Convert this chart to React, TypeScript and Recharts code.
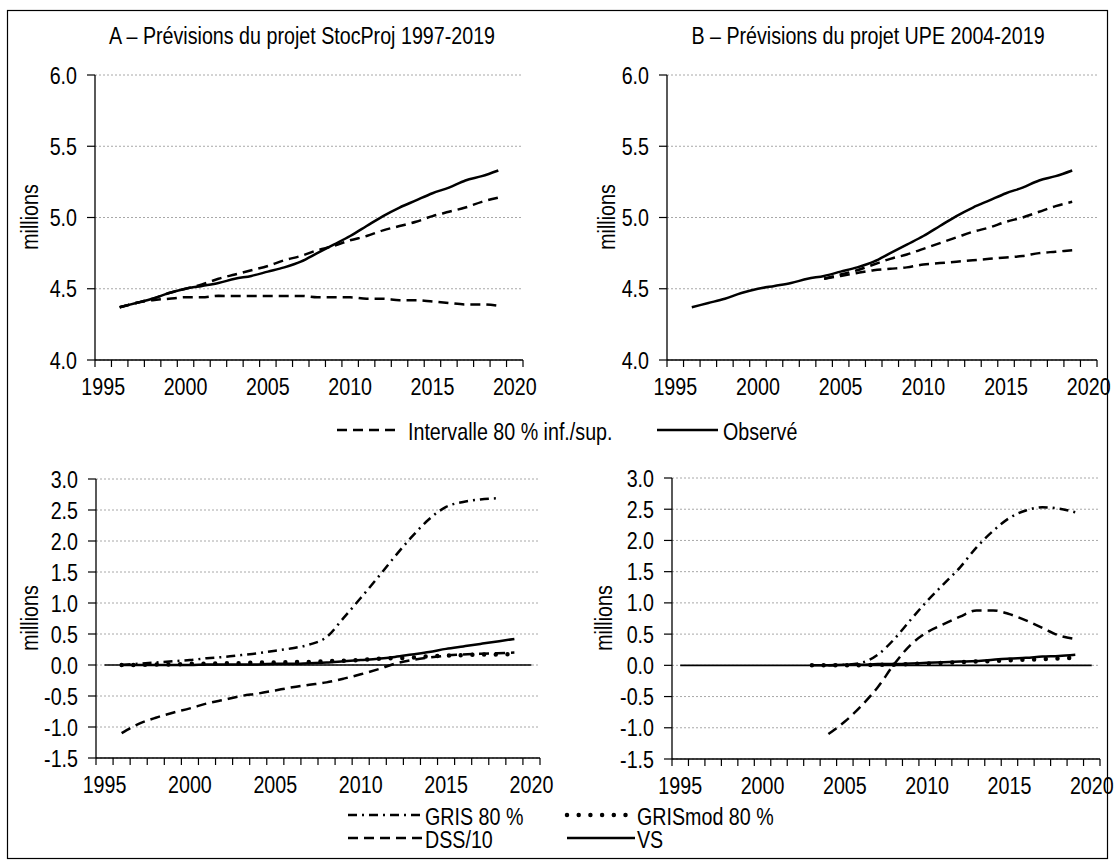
import React from 'react';
import { LineChart, Line, XAxis, YAxis, CartesianGrid, ReferenceLine } from 'recharts';

// no narrow font installed: Liberation Sans squeezed horizontally stands in for Arial Narrow
const FONT = "'Liberation Sans', Arial, sans-serif";
const FS = 24;
const SQ = 0.82;

// x axis: one category per year, labels every 5 years
const yearTicks = [1995, 1996, 1997, 1998, 1999, 2000, 2001, 2002, 2003, 2004, 2005, 2006, 2007,
  2008, 2009, 2010, 2011, 2012, 2013, 2014, 2015, 2016, 2017, 2018, 2019, 2020];
const topTicks = [4.0, 4.5, 5.0, 5.5, 6.0];
const bottomTicks = [-1.5, -1.0, -0.5, 0.0, 0.5, 1.0, 1.5, 2.0, 2.5, 3.0];

// panel A / B (top) : population, millions
const obsYears = [1996, 1997, 1998, 1999, 2000, 2001, 2002, 2003, 2004, 2005, 2006, 2007,
  2008, 2009, 2010, 2011, 2012, 2013, 2014, 2015, 2016, 2017, 2018, 2019];
const observed = [4.37, 4.40, 4.43, 4.47, 4.50, 4.52, 4.54, 4.57, 4.59, 4.62, 4.65, 4.69,
  4.75, 4.81, 4.87, 4.94, 5.01, 5.07, 5.12, 5.17, 5.21, 5.26, 5.29, 5.33];
const stocHigh = [4.37, 4.40, 4.43, 4.47, 4.50, 4.53, 4.57, 4.60, 4.63, 4.66, 4.70, 4.73,
  4.77, 4.80, 4.84, 4.87, 4.91, 4.94, 4.97, 5.01, 5.04, 5.07, 5.11, 5.14];
const stocLow = [4.37, 4.40, 4.42, 4.43, 4.44, 4.44, 4.45, 4.45, 4.45, 4.45, 4.45, 4.45,
  4.44, 4.44, 4.44, 4.43, 4.43, 4.42, 4.42, 4.41, 4.40, 4.39, 4.39, 4.38];

const upeYears = [2004, 2005, 2006, 2007, 2008, 2009, 2010, 2011, 2012, 2013, 2014, 2015,
  2016, 2017, 2018, 2019];
const upeHigh = [4.57, 4.60, 4.63, 4.67, 4.71, 4.74, 4.78, 4.82, 4.86, 4.90, 4.93, 4.97,
  5.00, 5.04, 5.08, 5.11];
const upeLow = [4.57, 4.59, 4.61, 4.63, 4.64, 4.65, 4.67, 4.68, 4.69, 4.70, 4.71, 4.72,
  4.73, 4.75, 4.76, 4.77];

// bottom left : StocProj interval widths
const grisAYears = [1996, 1997, 1998, 1999, 2000, 2001, 2002, 2003, 2004, 2005, 2006, 2007,
  2008, 2009, 2010, 2011, 2012, 2013, 2014, 2015, 2016, 2017, 2018];
const grisA = [0.00, 0.02, 0.04, 0.06, 0.08, 0.11, 0.13, 0.16, 0.19, 0.23, 0.27, 0.33,
  0.45, 0.76, 1.08, 1.41, 1.75, 2.07, 2.35, 2.55, 2.63, 2.67, 2.69];
const grisModA = [0.00, 0.00, 0.01, 0.01, 0.02, 0.02, 0.03, 0.03, 0.04, 0.04, 0.05, 0.05,
  0.06, 0.07, 0.08, 0.10, 0.11, 0.12, 0.14, 0.15, 0.16, 0.17, 0.17, 0.18];
const dssA = [-1.10, -0.95, -0.85, -0.77, -0.70, -0.62, -0.56, -0.50, -0.46, -0.41, -0.36, -0.32,
  -0.28, -0.22, -0.15, -0.07, 0.02, 0.08, 0.12, 0.15, 0.17, 0.18, 0.19, 0.20];
const vsA = [0.00, 0.00, 0.00, 0.00, 0.00, 0.01, 0.01, 0.01, 0.01, 0.02, 0.02, 0.03,
  0.04, 0.06, 0.08, 0.10, 0.13, 0.17, 0.21, 0.26, 0.30, 0.34, 0.38, 0.42];

// bottom right : UPE interval widths
const grisBYears = upeYears;
const grisB = [0.00, 0.01, 0.04, 0.17, 0.42, 0.73, 1.03, 1.30, 1.57, 1.89, 2.15, 2.36,
  2.48, 2.53, 2.51, 2.45];
const dssB = [-1.10, -0.90, -0.65, -0.35, 0.02, 0.33, 0.53, 0.66, 0.78, 0.88, 0.88, 0.82,
  0.72, 0.60, 0.48, 0.42];
const modBYears = [2003, 2004, 2005, 2006, 2007, 2008, 2009, 2010, 2011, 2012, 2013, 2014,
  2015, 2016, 2017, 2018, 2019];
const grisModB = [0.00, 0.00, 0.00, 0.00, 0.01, 0.01, 0.02, 0.03, 0.04, 0.05, 0.06, 0.07,
  0.08, 0.09, 0.10, 0.11, 0.12];
const vsB = [0.00, 0.00, 0.01, 0.01, 0.02, 0.02, 0.03, 0.04, 0.05, 0.06, 0.07, 0.09,
  0.11, 0.12, 0.14, 0.15, 0.17];

type Kind = 'solid' | 'dash' | 'dashdot' | 'dots';
type Series = { name: string; years: number[]; values: number[]; kind: Kind };

const STYLES: Record<Kind, any> = {
  solid: { strokeWidth: 2.5 },
  dash: { strokeWidth: 2.5, strokeDasharray: '10 6' },
  dashdot: { strokeWidth: 2.5, strokeDasharray: '9 5 2 5' },
  dots: { strokeWidth: 4.5, strokeDasharray: '0 11.7', strokeLinecap: 'round' },
};

const rows = (years: number[], values: number[]) => years.map((year, i) => ({ year, v: values[i] }));

// narrow text
function NText({ x, y, anchor = 'start', rotate = 0, children }: any) {
  return (
    <text
      transform={`translate(${x},${y}) rotate(${rotate}) scale(${SQ},1)`}
      textAnchor={anchor} fontSize={FS} fontFamily={FONT} fill="#000"
    >
      {children}
    </text>
  );
}

function XTick(props: any) {
  const { x, y, payload, step } = props;
  const yr = payload.value;
  return (
    <g>
      <line x1={x - step / 2} x2={x - step / 2} y1={y} y2={y + 7} stroke="#000" strokeWidth={1.2} />
      {yr === 2020 && <line x1={x + step / 2} x2={x + step / 2} y1={y} y2={y + 7} stroke="#000" strokeWidth={1.2} />}
      {yr % 5 === 0 && <NText x={x} y={y + 35} anchor="middle">{yr}</NText>}
    </g>
  );
}

function YTick(props: any) {
  const { x, y, payload } = props;
  return <NText x={x} y={y + 8.5} anchor="end">{Number(payload.value).toFixed(1)}</NText>;
}

type PanelProps = {
  left: number; top: number; width: number; height: number;
  margin: { top: number; right: number; bottom: number; left: number };
  yWidth: number; domain: [number, number]; ticks: number[];
  series: Series[]; zero?: boolean;
};

function Panel({ left, top, width, height, margin, yWidth, domain, ticks, series, zero }: PanelProps) {
  const plotW = width - margin.left - margin.right - yWidth;
  const step = plotW / 26;
  return (
    <div style={{ position: 'absolute', left, top }}>
      <LineChart width={width} height={height} margin={margin}>
        <CartesianGrid vertical={false} stroke="#a8a8a8" strokeDasharray="2 2" />
        <XAxis
          dataKey="year" type="number" domain={[1994.5, 2020.5]} ticks={yearTicks} interval={0}
          allowDataOverflow height={40} tickSize={0} tickMargin={0} tickLine={false}
          axisLine={{ stroke: '#000', strokeWidth: 1.3 }}
          tick={(p: any) => <XTick {...p} step={step} />}
        />
        <YAxis
          type="number" domain={domain} ticks={ticks} interval={0} width={yWidth}
          tickSize={8} tickMargin={10}
          axisLine={{ stroke: '#000', strokeWidth: 1.3 }} tickLine={{ stroke: '#000', strokeWidth: 1.2 }}
          tick={(p: any) => <YTick {...p} />}
        />
        {zero && (
          <ReferenceLine segment={[{ x: 1995, y: 0 }, { x: 2020, y: 0 }]} stroke="#000" strokeWidth={1.6} />
        )}
        {series.map((s) => (
          <Line
            key={s.name} name={s.name} data={rows(s.years, s.values)} dataKey="v" type="monotone"
            stroke="#000" fill="none" dot={false} activeDot={false} isAnimationActive={false}
            {...STYLES[s.kind]}
          />
        ))}
      </LineChart>
    </div>
  );
}

function LegendItem({ x1, x2, y, tx, kind, text }: { x1: number; x2: number; y: number; tx: number; kind: Kind; text: string }) {
  return (
    <g>
      <line x1={x1} x2={x2} y1={y} y2={y} stroke="#000" {...STYLES[kind]} />
      <NText x={tx} y={y + 10}>{text}</NText>
    </g>
  );
}

export default function App() {
  return (
    <div style={{ position: 'absolute', left: 0, top: 0, width: 1115, height: 868, background: '#fff' }}>
      <Panel
        left={0} top={40} width={560} height={365}
        margin={{ top: 35, right: 37, bottom: 5, left: 35 }} yWidth={60}
        domain={[4, 6]} ticks={topTicks}
        series={[
          { name: 'Intervalle sup', years: obsYears, values: stocHigh, kind: 'dash' },
          { name: 'Intervalle inf', years: obsYears, values: stocLow, kind: 'dash' },
          { name: 'Observé', years: obsYears, values: observed, kind: 'solid' },
        ]}
      />
      <Panel
        left={560} top={40} width={555} height={365}
        margin={{ top: 35, right: 18, bottom: 5, left: 47 }} yWidth={60}
        domain={[4, 6]} ticks={topTicks}
        series={[
          { name: 'Intervalle sup', years: upeYears, values: upeHigh, kind: 'dash' },
          { name: 'Intervalle inf', years: upeYears, values: upeLow, kind: 'dash' },
          { name: 'Observé', years: obsYears, values: observed, kind: 'solid' },
        ]}
      />
      <Panel
        left={0} top={440} width={560} height={365}
        margin={{ top: 39, right: 20, bottom: 7, left: 26 }} yWidth={70}
        domain={[-1.5, 3]} ticks={bottomTicks} zero
        series={[
          { name: 'GRIS 80 %', years: grisAYears, values: grisA, kind: 'dashdot' },
          { name: 'DSS/10', years: obsYears, values: dssA, kind: 'dash' },
          { name: 'VS', years: obsYears, values: vsA, kind: 'solid' },
          { name: 'GRISmod 80 %', years: obsYears, values: grisModA, kind: 'dots' },
        ]}
      />
      <Panel
        left={560} top={440} width={555} height={365}
        margin={{ top: 38, right: 15, bottom: 6, left: 42 }} yWidth={70}
        domain={[-1.5, 3]} ticks={bottomTicks} zero
        series={[
          { name: 'GRIS 80 %', years: grisBYears, values: grisB, kind: 'dashdot' },
          { name: 'DSS/10', years: grisBYears, values: dssB, kind: 'dash' },
          { name: 'VS', years: modBYears, values: vsB, kind: 'solid' },
          { name: 'GRISmod 80 %', years: modBYears, values: grisModB, kind: 'dots' },
        ]}
      />
      <svg width={1115} height={868} style={{ position: 'absolute', left: 0, top: 0, pointerEvents: 'none' }}>
        <rect x={7.5} y={10.5} width={1100} height={848} fill="none" stroke="#000" strokeWidth={1.2} />
        <NText x={302} y={44} anchor="middle">A – Prévisions du projet StocProj 1997-2019</NText>
        <NText x={868} y={44} anchor="middle">B – Prévisions du projet UPE 2004-2019</NText>
        <NText x={38} y={217} anchor="middle" rotate={-90}>millions</NText>
        <NText x={615} y={217} anchor="middle" rotate={-90}>millions</NText>
        <NText x={38} y={618} anchor="middle" rotate={-90}>millions</NText>
        <NText x={612} y={618} anchor="middle" rotate={-90}>millions</NText>
        <LegendItem x1={337} x2={400} y={430} tx={408} kind="dash" text="Intervalle 80 % inf./sup." />
        <LegendItem x1={657} x2={718} y={430} tx={723} kind="solid" text="Observé" />
        <LegendItem x1={348} x2={422} y={815} tx={425} kind="dashdot" text="GRIS 80 %" />
        <LegendItem x1={567} x2={633} y={815} tx={637} kind="dots" text="GRISmod 80 %" />
        <LegendItem x1={348} x2={422} y={838} tx={425} kind="dash" text="DSS/10" />
        <LegendItem x1={567} x2={635} y={838} tx={637} kind="solid" text="VS" />
      </svg>
    </div>
  );
}
